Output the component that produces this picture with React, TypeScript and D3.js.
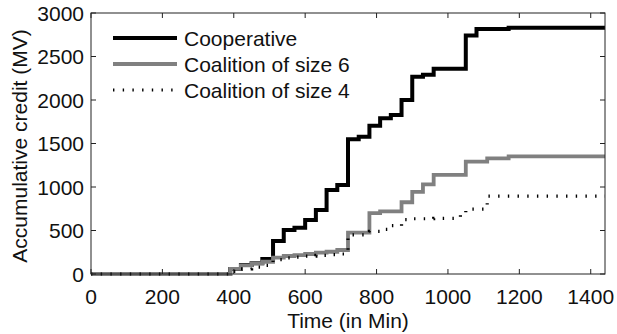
import React from "react";
import * as d3 from "d3";

const coopT = [0, 390, 420, 450, 480, 510, 540, 570, 600, 630, 660, 690, 720, 750, 780, 810, 840, 870, 900, 930, 960, 1050, 1080, 1170, 1440];
const coopV = [0, 58, 103, 123, 172, 380, 505, 532, 620, 735, 965, 1023, 1550, 1578, 1705, 1790, 1828, 2000, 2268, 2290, 2358, 2740, 2816, 2830, 2830];

const c6T = [0, 390, 420, 450, 480, 510, 540, 570, 600, 630, 660, 690, 720, 780, 810, 870, 900, 930, 960, 1050, 1110, 1170, 1440];
const c6V = [0, 58, 100, 122, 141, 188, 207, 218, 230, 245, 256, 276, 475, 700, 720, 825, 945, 1030, 1140, 1291, 1330, 1352, 1352];

const c4T = [0, 390, 420, 450, 480, 510, 540, 570, 600, 630, 660, 690, 720, 780, 810, 840, 870, 900, 960, 1035, 1050, 1110, 1440];
const c4V = [0, 30, 60, 80, 100, 165, 185, 195, 205, 215, 222, 230, 450, 490, 513, 555, 625, 635, 640, 697, 745, 895, 895];

const seriesNames = ["Cooperative", "Coalition of size 6", "Coalition of size 4"];
const xTicks = [0, 200, 400, 600, 800, 1000, 1200, 1400];
const yTicks = [0, 500, 1000, 1500, 2000, 2500, 3000];

const W = 617, H = 334;
const L = 91, R = 605, T = 13, B = 274;
const FONT = "'Liberation Sans', Arial, Helvetica, sans-serif";
const FS = 21;

export default function App() {
  const x = d3.scaleLinear().domain([0, 1440]).range([L, R]);
  const y = d3.scaleLinear().domain([0, 3000]).range([B, T]);
  const line = d3
    .line<[number, number]>()
    .x((d) => x(d[0]))
    .y((d) => y(d[1]))
    .curve(d3.curveStepAfter);
  const zip = (t: number[], v: number[]) => t.map((tt, i) => [tt, v[i]] as [number, number]);

  const styles = [
    { stroke: "#000", width: 4, dash: undefined as string | undefined },
    { stroke: "#808080", width: 3.8, dash: undefined as string | undefined },
    { stroke: "#000", width: 3.2, dash: "1.4 8.3" },
  ];
  const data = [zip(coopT, coopV), zip(c6T, c6V), zip(c4T, c4V)];
  const tl = 5;

  return (
    <svg width={W} height={H} style={{ position: "absolute", left: 0, top: 0, background: "#fff" }}>
      <rect x={0} y={0} width={W} height={H} fill="#fff" />
      <defs>
        <clipPath id="clip">
          <rect x={L} y={T - 3} width={R - L} height={B - T + 5} />
        </clipPath>
      </defs>
      <g clipPath="url(#clip)">
        {data.map((d, i) => (
          <path
            key={i}
            d={line(d) || ""}
            fill="none"
            stroke={styles[i].stroke}
            strokeWidth={styles[i].width}
            strokeDasharray={styles[i].dash}
            strokeLinejoin="miter"
          />
        ))}
      </g>
      <rect x={L} y={T} width={R - L} height={B - T} fill="none" stroke="#222" strokeWidth={1} />
      {xTicks.map((t) => (
        <g key={"x" + t}>
          <line x1={x(t)} x2={x(t)} y1={B} y2={B - tl} stroke="#222" />
          <line x1={x(t)} x2={x(t)} y1={T} y2={T + tl} stroke="#222" />
          <text x={x(t)} y={304} fontSize={FS} fontFamily={FONT} textAnchor="middle" fill="#111">
            {t}
          </text>
        </g>
      ))}
      {yTicks.map((v) => (
        <g key={"y" + v}>
          <line x1={L} x2={L + tl} y1={y(v)} y2={y(v)} stroke="#222" />
          <line x1={R} x2={R - tl} y1={y(v)} y2={y(v)} stroke="#222" />
          <text x={84} y={y(v) + 7.5} fontSize={FS} fontFamily={FONT} textAnchor="end" fill="#111">
            {v}
          </text>
        </g>
      ))}
      <text x={(L + R) / 2} y={328} fontSize={FS} fontFamily={FONT} textAnchor="middle" fill="#111">
        Time (in Min)
      </text>
      <text
        transform={`translate(27, 146) rotate(-90)`}
        fontSize={FS}
        fontFamily={FONT}
        textAnchor="middle"
        fill="#111"
      >
        Accumulative credit (MV)
      </text>
      {seriesNames.map((name, i) => {
        const ly = 38 + i * 26;
        return (
          <g key={name}>
            <line
              x1={113}
              x2={177}
              y1={ly}
              y2={ly}
              stroke={styles[i].stroke}
              strokeWidth={styles[i].width}
              strokeDasharray={styles[i].dash}
            />
            <text x={184} y={ly + 7.5} fontSize={FS} fontFamily={FONT} fill="#111">
              {name}
            </text>
          </g>
        );
      })}
    </svg>
  );
}
